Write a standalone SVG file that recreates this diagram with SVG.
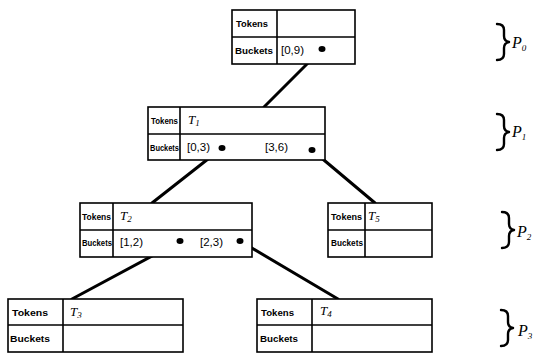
<svg xmlns="http://www.w3.org/2000/svg" width="543" height="356" viewBox="0 0 543 356">
<defs>
<style>
.box{fill:#fff;stroke:#000;stroke-width:1.6}
.lbl{font-family:"Liberation Sans",Arial,sans-serif;font-size:9px;font-weight:bold;fill:#000}
.val{font-family:"Liberation Sans",Arial,sans-serif;font-size:11.5px;fill:#000}
.t{font-family:"Liberation Serif","Times New Roman",serif;font-size:13px;font-style:italic;fill:#000}
.sub{font-size:9px}
.edge{stroke:#000;stroke-width:3;fill:none;stroke-linecap:round}
.dot{fill:#000}
.brace{stroke:#000;stroke-width:2.4;fill:none;stroke-linejoin:round;stroke-linecap:round}
.p{font-family:"Liberation Serif","Times New Roman",serif;font-size:16px;font-style:italic;fill:#000}
</style>
</defs>
<rect width="543" height="356" fill="#fff"/>
<g id="edges">
<line class="edge" x1="322" y1="49" x2="264" y2="107"/>
<line class="edge" x1="222" y1="148" x2="152" y2="203"/>
<line class="edge" x1="312" y1="150" x2="375" y2="203"/>
<line class="edge" x1="180" y1="241" x2="72" y2="299"/>
<line class="edge" x1="240" y1="241" x2="338" y2="299"/>
</g>
<g id="node0">
<rect class="box" x="232" y="10" width="123" height="54"/>
<line class="box" x1="232" y1="37" x2="355" y2="37"/>
<line class="box" x1="277" y1="10" x2="277" y2="64"/>
<text class="lbl" x="236" y="27" textLength="32" lengthAdjust="spacingAndGlyphs">Tokens</text>
<text class="lbl" x="235" y="54" textLength="38" lengthAdjust="spacingAndGlyphs">Buckets</text>
<text class="val" x="281" y="54">[0,9)</text>
<ellipse class="dot" cx="322" cy="49" rx="3.5" ry="3"/>
</g>
<g id="node1">
<rect class="box" x="148" y="107" width="177" height="53"/>
<line class="box" x1="148" y1="134" x2="325" y2="134"/>
<line class="box" x1="180" y1="107" x2="180" y2="160"/>
<text class="lbl" x="151" y="124" textLength="27" lengthAdjust="spacingAndGlyphs">Tokens</text>
<text class="lbl" x="150" y="151" textLength="29" lengthAdjust="spacingAndGlyphs">Buckets</text>
<text class="t" x="188" y="124">T<tspan class="sub" dy="2">1</tspan></text>
<text class="val" x="187" y="151">[0,3)</text>
<ellipse class="dot" cx="222" cy="148" rx="3.5" ry="3"/>
<text class="val" x="265" y="151">[3,6)</text>
<ellipse class="dot" cx="312" cy="150" rx="3.5" ry="3"/>
</g>
<g id="node2">
<rect class="box" x="80" y="203" width="172" height="54"/>
<line class="box" x1="80" y1="230" x2="252" y2="230"/>
<line class="box" x1="113" y1="203" x2="113" y2="257"/>
<text class="lbl" x="82" y="220" textLength="29" lengthAdjust="spacingAndGlyphs">Tokens</text>
<text class="lbl" x="82" y="246" textLength="30" lengthAdjust="spacingAndGlyphs">Buckets</text>
<text class="t" x="120" y="220">T<tspan class="sub" dy="2">2</tspan></text>
<text class="val" x="120" y="246">[1,2)</text>
<ellipse class="dot" cx="180" cy="241" rx="3.5" ry="3"/>
<text class="val" x="200" y="246">[2,3)</text>
<ellipse class="dot" cx="240" cy="241" rx="3.5" ry="3"/>
</g>
<g id="node5">
<rect class="box" x="328" y="203" width="104" height="54"/>
<line class="box" x1="328" y1="230" x2="432" y2="230"/>
<line class="box" x1="365" y1="203" x2="365" y2="257"/>
<text class="lbl" x="331" y="220" textLength="31" lengthAdjust="spacingAndGlyphs">Tokens</text>
<text class="lbl" x="331" y="246" textLength="32" lengthAdjust="spacingAndGlyphs">Buckets</text>
<text class="t" x="368" y="220">T<tspan class="sub" dy="2">5</tspan></text>
</g>
<g id="node3">
<rect class="box" x="8" y="299" width="175" height="53"/>
<line class="box" x1="8" y1="325" x2="183" y2="325"/>
<line class="box" x1="63" y1="299" x2="63" y2="352"/>
<text class="lbl" x="12" y="316" textLength="36" lengthAdjust="spacingAndGlyphs">Tokens</text>
<text class="lbl" x="10" y="342" textLength="40" lengthAdjust="spacingAndGlyphs">Buckets</text>
<text class="t" x="70" y="316">T<tspan class="sub" dy="2">3</tspan></text>
</g>
<g id="node4">
<rect class="box" x="257" y="299" width="175" height="53"/>
<line class="box" x1="257" y1="325" x2="432" y2="325"/>
<line class="box" x1="312" y1="299" x2="312" y2="352"/>
<text class="lbl" x="261" y="316" textLength="33" lengthAdjust="spacingAndGlyphs">Tokens</text>
<text class="lbl" x="260" y="342" textLength="38" lengthAdjust="spacingAndGlyphs">Buckets</text>
<text class="t" x="320" y="315">T<tspan class="sub" dy="2">4</tspan></text>
</g>
<g id="levels">
<path class="brace" d="M497,24 Q504,24 504,30 L504,36 Q504,41 509,42 Q504,43 504,48 L504,54 Q504,60 497,60"/>
<text class="p" x="512" y="48">P<tspan class="sub" dy="3">0</tspan></text>
<path class="brace" d="M497,114 Q504,114 504,120 L504,126 Q504,131 509,132 Q504,133 504,138 L504,144 Q504,150 497,150"/>
<text class="p" x="512" y="137">P<tspan class="sub" dy="3">1</tspan></text>
<path class="brace" d="M502,212 Q509,212 509,218 L509,224 Q509,229 514,230 Q509,231 509,236 L509,242 Q509,248 502,248"/>
<text class="p" x="517" y="237">P<tspan class="sub" dy="3">2</tspan></text>
<path class="brace" d="M501,310 Q508,310 508,316 L508,322 Q508,327 513,328 Q508,329 508,334 L508,340 Q508,346 501,346"/>
<text class="p" x="518" y="336">P<tspan class="sub" dy="3">3</tspan></text>
</g>
</svg>
